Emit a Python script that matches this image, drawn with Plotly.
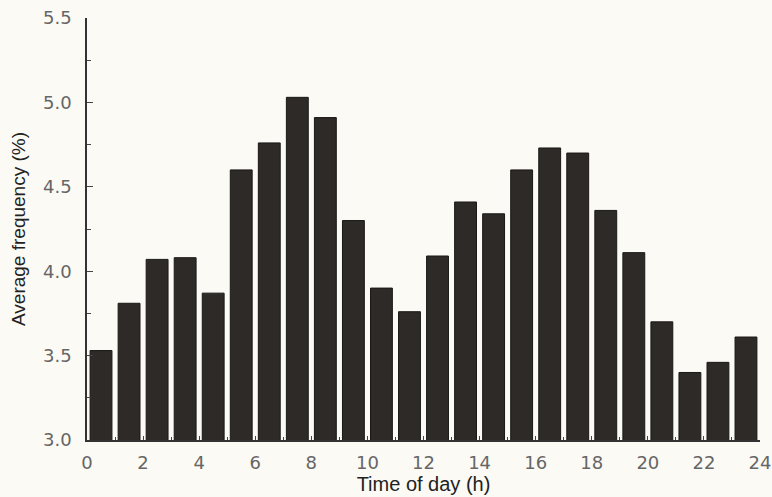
import plotly.graph_objects as go

hours = [h + 0.5 for h in range(24)]
freq = [3.53, 3.81, 4.07, 4.08, 3.87, 4.60, 4.76, 5.03, 4.91, 4.30, 3.90, 3.76,
        4.09, 4.41, 4.34, 4.60, 4.73, 4.70, 4.36, 4.11, 3.70, 3.40, 3.46, 3.61]
x_ticks = list(range(0, 25, 2))
y_ticks = [3.0, 3.5, 4.0, 4.5, 5.0, 5.5]

fig = go.Figure(go.Bar(
    x=hours, y=freq, width=0.78,
    marker=dict(color="#2e2a27", line=dict(color="#1a1816", width=1)),
))

fig.update_layout(
    width=772, height=497,
    margin=dict(l=87, r=12, t=18, b=57),
    paper_bgcolor="#fbfaf5", plot_bgcolor="#fbfaf5",
    showlegend=False,
    font=dict(family="Liberation Sans, Arial, sans-serif", color="#333"),
)
fig.update_xaxes(
    automargin=False,
    range=[0, 24], tickvals=x_ticks, ticktext=[str(t) for t in x_ticks],
    ticks="inside", ticklen=4, tickcolor="#444", tickwidth=1,
    minor=dict(dtick=1, tick0=0, ticks="inside", ticklen=3, tickcolor="#444"),
    showline=True, linecolor="#333", linewidth=1.5, showgrid=False, zeroline=False,
    tickfont=dict(family="DejaVu Sans, sans-serif", size=18, color="#666"),
    ticklabelstandoff=6,
    title=dict(text="Time of day (h)", font=dict(size=20, color="#222"), standoff=3),
)
fig.update_yaxes(
    automargin=False,
    range=[3.0, 5.5], tickvals=y_ticks, ticktext=[f"{v:.1f}" for v in y_ticks],
    ticks="inside", ticklen=6, tickcolor="#444", tickwidth=1,
    minor=dict(dtick=0.25, tick0=3.0, ticks="inside", ticklen=4, tickcolor="#444"),
    showline=True, linecolor="#333", linewidth=1.5, showgrid=False, zeroline=False,
    tickfont=dict(family="DejaVu Sans, sans-serif", size=18, color="#666"),
    ticklabelstandoff=10,
    title=dict(text="Average frequency (%)", font=dict(size=19, color="#222"), standoff=12),
)

fig.write_html("out.html", post_script="document.body.style.margin='0';",
               config={"displayModeBar": False})
